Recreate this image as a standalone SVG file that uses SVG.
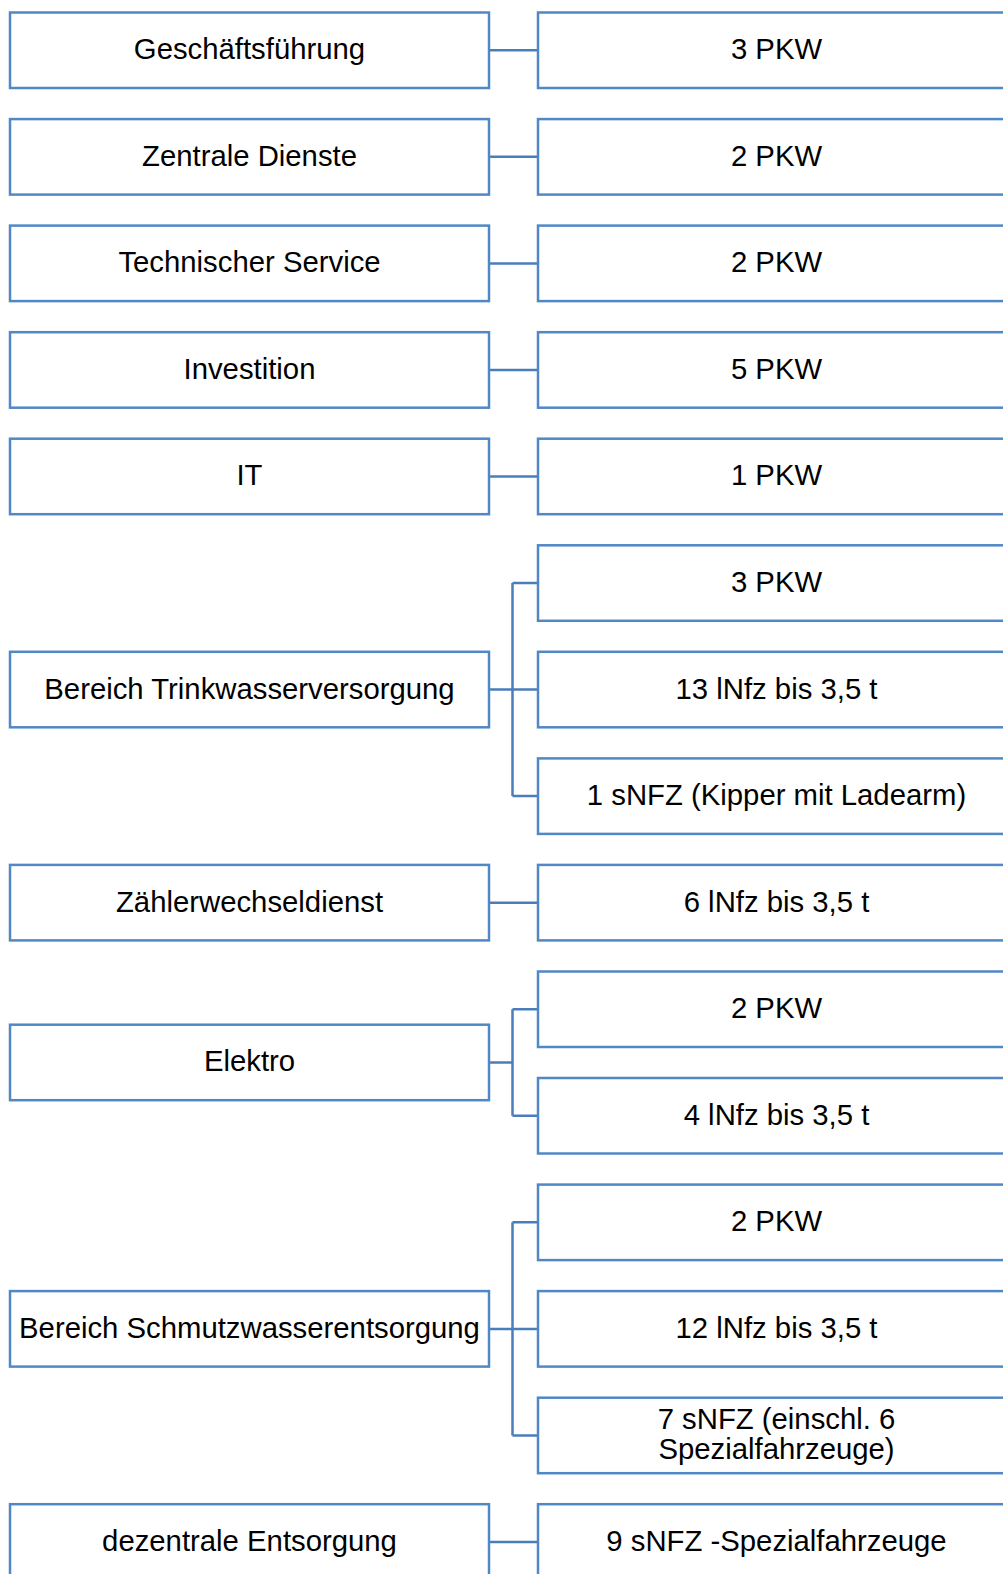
<svg xmlns="http://www.w3.org/2000/svg" width="1003" height="1574" viewBox="0 0 1003 1574">
<style>
.box{fill:#ffffff;stroke:#5088c6;stroke-width:2.5}
.t{font-family:"Liberation Sans",Arial,sans-serif;font-size:29.3px;fill:#000000;text-anchor:middle}
.c{fill:none;stroke:#4a7ebb;stroke-width:2.5}
</style>
<rect width="1003" height="1574" fill="#ffffff"/>
<g id="connectors">
<path class="c" d="M489 50.3H538"/>
<path class="c" d="M489 156.8H538"/>
<path class="c" d="M489 263.4H538"/>
<path class="c" d="M489 369.9H538"/>
<path class="c" d="M489 476.5H538"/>
<path class="c" d="M489 689.6H512.5M512.5 583V796.1M512.5 583H538M512.5 689.6H538M512.5 796.1H538"/>
<path class="c" d="M489 902.7H538"/>
<path class="c" d="M489 1062.5H512.5M512.5 1009.2V1115.8M512.5 1009.2H538M512.5 1115.8H538"/>
<path class="c" d="M489 1328.9H512.5M512.5 1222.3V1435.4M512.5 1222.3H538M512.5 1328.9H538M512.5 1435.4H538"/>
<path class="c" d="M489 1542H538"/>
</g>
<g id="n-geschaeftsfuehrung"><rect class="box" x="10" y="12.5" width="479" height="75.5"/><text class="t" x="249.5" y="59.2">Geschäftsführung</text></g>
<g id="n-gf-pkw"><rect class="box" x="538" y="12.5" width="478" height="75.5"/><text class="t" x="776.5" y="59.2">3 PKW</text></g>
<g id="n-zentrale"><rect class="box" x="10" y="119.1" width="479" height="75.5"/><text class="t" x="249.5" y="165.7">Zentrale Dienste</text></g>
<g id="n-zd-pkw"><rect class="box" x="538" y="119.1" width="478" height="75.5"/><text class="t" x="776.5" y="165.7">2 PKW</text></g>
<g id="n-technischer"><rect class="box" x="10" y="225.6" width="479" height="75.5"/><text class="t" x="249.5" y="272.3">Technischer Service</text></g>
<g id="n-ts-pkw"><rect class="box" x="538" y="225.6" width="478" height="75.5"/><text class="t" x="776.5" y="272.3">2 PKW</text></g>
<g id="n-investition"><rect class="box" x="10" y="332.2" width="479" height="75.5"/><text class="t" x="249.5" y="378.8">Investition</text></g>
<g id="n-inv-pkw"><rect class="box" x="538" y="332.2" width="478" height="75.5"/><text class="t" x="776.5" y="378.8">5 PKW</text></g>
<g id="n-it"><rect class="box" x="10" y="438.7" width="479" height="75.5"/><text class="t" x="249.5" y="485.4">IT</text></g>
<g id="n-it-pkw"><rect class="box" x="538" y="438.7" width="478" height="75.5"/><text class="t" x="776.5" y="485.4">1 PKW</text></g>
<g id="n-tw-pkw"><rect class="box" x="538" y="545.3" width="478" height="75.5"/><text class="t" x="776.5" y="591.9">3 PKW</text></g>
<g id="n-trinkwasser"><rect class="box" x="10" y="651.8" width="479" height="75.5"/><text class="t" x="249.5" y="698.5">Bereich Trinkwasserversorgung</text></g>
<g id="n-tw-lnfz"><rect class="box" x="538" y="651.8" width="478" height="75.5"/><text class="t" x="776.5" y="698.5">13 lNfz bis 3,5 t</text></g>
<g id="n-tw-snfz"><rect class="box" x="538" y="758.4" width="478" height="75.5"/><text class="t" x="776.5" y="805">1 sNFZ (Kipper mit Ladearm)</text></g>
<g id="n-zaehler"><rect class="box" x="10" y="864.9" width="479" height="75.5"/><text class="t" x="249.5" y="911.6">Zählerwechseldienst</text></g>
<g id="n-zw-lnfz"><rect class="box" x="538" y="864.9" width="478" height="75.5"/><text class="t" x="776.5" y="911.6">6 lNfz bis 3,5 t</text></g>
<g id="n-el-pkw"><rect class="box" x="538" y="971.5" width="478" height="75.5"/><text class="t" x="776.5" y="1018.1">2 PKW</text></g>
<g id="n-elektro"><rect class="box" x="10" y="1024.7" width="479" height="75.5"/><text class="t" x="249.5" y="1071.4">Elektro</text></g>
<g id="n-el-lnfz"><rect class="box" x="538" y="1078" width="478" height="75.5"/><text class="t" x="776.5" y="1124.7">4 lNfz bis 3,5 t</text></g>
<g id="n-sw-pkw"><rect class="box" x="538" y="1184.6" width="478" height="75.5"/><text class="t" x="776.5" y="1231.2">2 PKW</text></g>
<g id="n-schmutzwasser"><rect class="box" x="10" y="1291.1" width="479" height="75.5"/><text class="t" x="249.5" y="1337.8">Bereich Schmutzwasserentsorgung</text></g>
<g id="n-sw-lnfz"><rect class="box" x="538" y="1291.1" width="478" height="75.5"/><text class="t" x="776.5" y="1337.8">12 lNfz bis 3,5 t</text></g>
<g id="n-sw-snfz"><rect class="box" x="538" y="1397.7" width="478" height="75.5"/><text class="t" x="776.5" y="1429.2">7 sNFZ (einschl. 6</text><text class="t" x="776.5" y="1459.2">Spezialfahrzeuge)</text></g>
<g id="n-dezentrale"><rect class="box" x="10" y="1504.2" width="479" height="75.5"/><text class="t" x="249.5" y="1550.9">dezentrale Entsorgung</text></g>
<g id="n-de-snfz"><rect class="box" x="538" y="1504.2" width="478" height="75.5"/><text class="t" x="776.5" y="1550.9">9 sNFZ -Spezialfahrzeuge</text></g>
</svg>
